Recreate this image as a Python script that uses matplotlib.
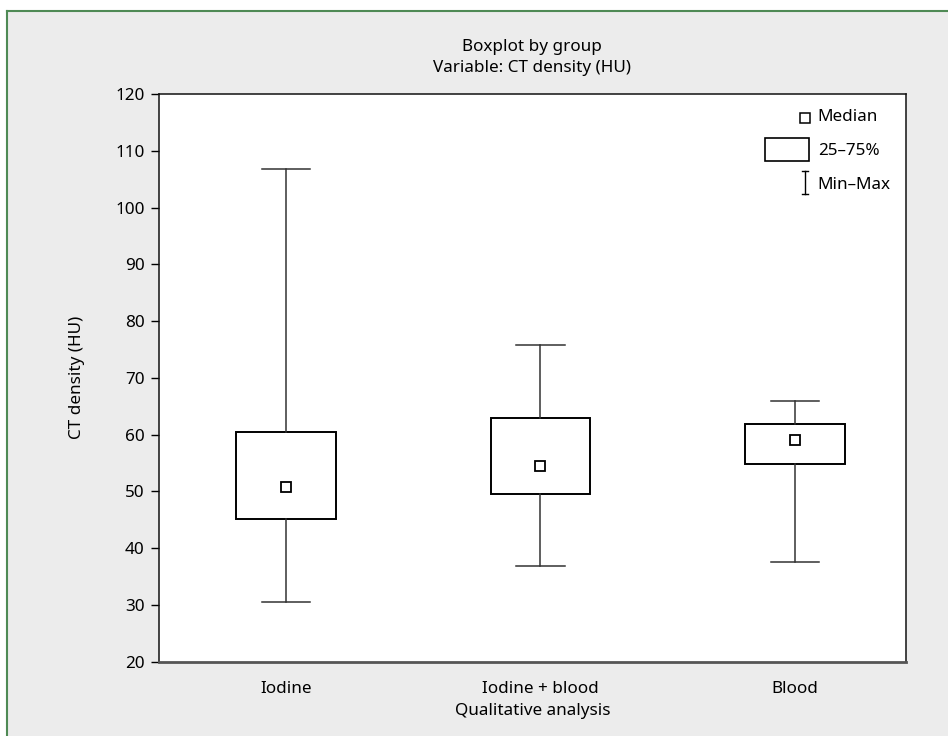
import matplotlib
matplotlib.use("Agg")
import matplotlib.pyplot as plt
from matplotlib.patches import Rectangle
from matplotlib.lines import Line2D

plt.rcParams['font.family'] = ['Noto Sans', 'DejaVu Sans']

categories = ["Iodine", "Iodine + blood", "Blood"]
mins = [30.5, 36.9, 37.5]
q1s = [45.2, 49.5, 54.8]
medians = [50.8, 54.5, 59.0]
q3s = [60.4, 62.9, 61.8]
maxs = [106.8, 75.8, 65.9]
yticks = [20, 30, 40, 50, 60, 70, 80, 90, 100, 110, 120]

FS = 12.3
W, H = 948, 736
fig = plt.figure(figsize=(W / 100, H / 100), dpi=100, facecolor='white')

# gray panel with green border (top and left)
x0, ytop = 7 / W, 1 - 11 / H
fig.patches.append(Rectangle((x0, 0), 1 - x0, ytop, transform=fig.transFigure,
                             facecolor='#ececec', edgecolor='none', zorder=-10))
fig.lines.append(Line2D([x0, 1], [ytop, ytop], transform=fig.transFigure,
                        color='#4f8a55', lw=1.5, zorder=-5))
fig.lines.append(Line2D([x0, x0], [0, ytop], transform=fig.transFigure,
                        color='#4f8a55', lw=1.5, zorder=-5))

left, right = 158.7 / W, 906 / W
bottom, top = 1 - 661.7 / H, 1 - 94 / H
ax = fig.add_axes([left, bottom, right - left, top - bottom])
ax.set_zorder(1)
ax.set_facecolor('white')

stats = []
for c, lo, a, m, b, hi in zip(categories, mins, q1s, medians, q3s, maxs):
    stats.append(dict(label=c, whislo=lo, q1=a, med=m, q3=b, whishi=hi, fliers=[]))

positions = [1, 2, 3]
ax.bxp(stats, positions=positions, widths=0.39, showfliers=False,
       patch_artist=True,
       boxprops=dict(facecolor='white', edgecolor='black', linewidth=1.4),
       whiskerprops=dict(color='#333333', linewidth=1.1),
       capprops=dict(color='#333333', linewidth=1.1),
       capwidths=0.19,
       medianprops=dict(linewidth=0, color='none'))
ax.plot(positions, medians, linestyle='none', marker='s', markersize=7,
        markerfacecolor='white', markeredgecolor='black', markeredgewidth=1.3,
        zorder=5)

ax.set_xlim(0.5, 3.436)
ax.set_ylim(20, 120)
ax.set_yticks(yticks)
ax.set_xticks(positions)
ax.set_xticklabels(categories, fontsize=FS)
ax.tick_params(axis='x', length=0, pad=14)
ax.tick_params(axis='y', direction='out', length=6, width=1, labelsize=FS, pad=4)
for s in ['left', 'right', 'top']:
    ax.spines[s].set_color('#111111')
    ax.spines[s].set_linewidth(1.1)
ax.spines['bottom'].set_color('#555555')
ax.spines['bottom'].set_linewidth(2)

ax.set_ylabel("CT density (HU)", fontsize=FS, labelpad=22)
ax.set_xlabel("Qualitative analysis", fontsize=FS, labelpad=4)
ax.set_title("Boxplot by group\nVariable: CT density (HU)", fontsize=FS,
             linespacing=1.4, pad=16)

# legend drawn manually
T = ax.transAxes
ax.plot([0.865], [0.957], marker='s', markersize=7, markerfacecolor='white',
        markeredgecolor='black', markeredgewidth=1.1, transform=T, clip_on=False)
ax.text(0.882, 0.959, "Median", transform=T, fontsize=FS, va='center', ha='left')
ax.add_patch(Rectangle((0.811, 0.8825), 0.059, 0.0405, transform=T,
                       facecolor='white', edgecolor='black', lw=1.2))
ax.text(0.882, 0.899, "25–75%", transform=T, fontsize=FS, va='center', ha='left')
ax.plot([0.8654, 0.8654], [0.8239, 0.8644], color='black', lw=1, transform=T)
ax.plot([0.8614, 0.8694], [0.8644, 0.8644], color='black', lw=1, transform=T)
ax.plot([0.8614, 0.8694], [0.8239, 0.8239], color='black', lw=1, transform=T)
ax.text(0.882, 0.840, "Min–Max", transform=T, fontsize=FS, va='center', ha='left')

fig.savefig("out.png", dpi=100, facecolor=fig.get_facecolor())
